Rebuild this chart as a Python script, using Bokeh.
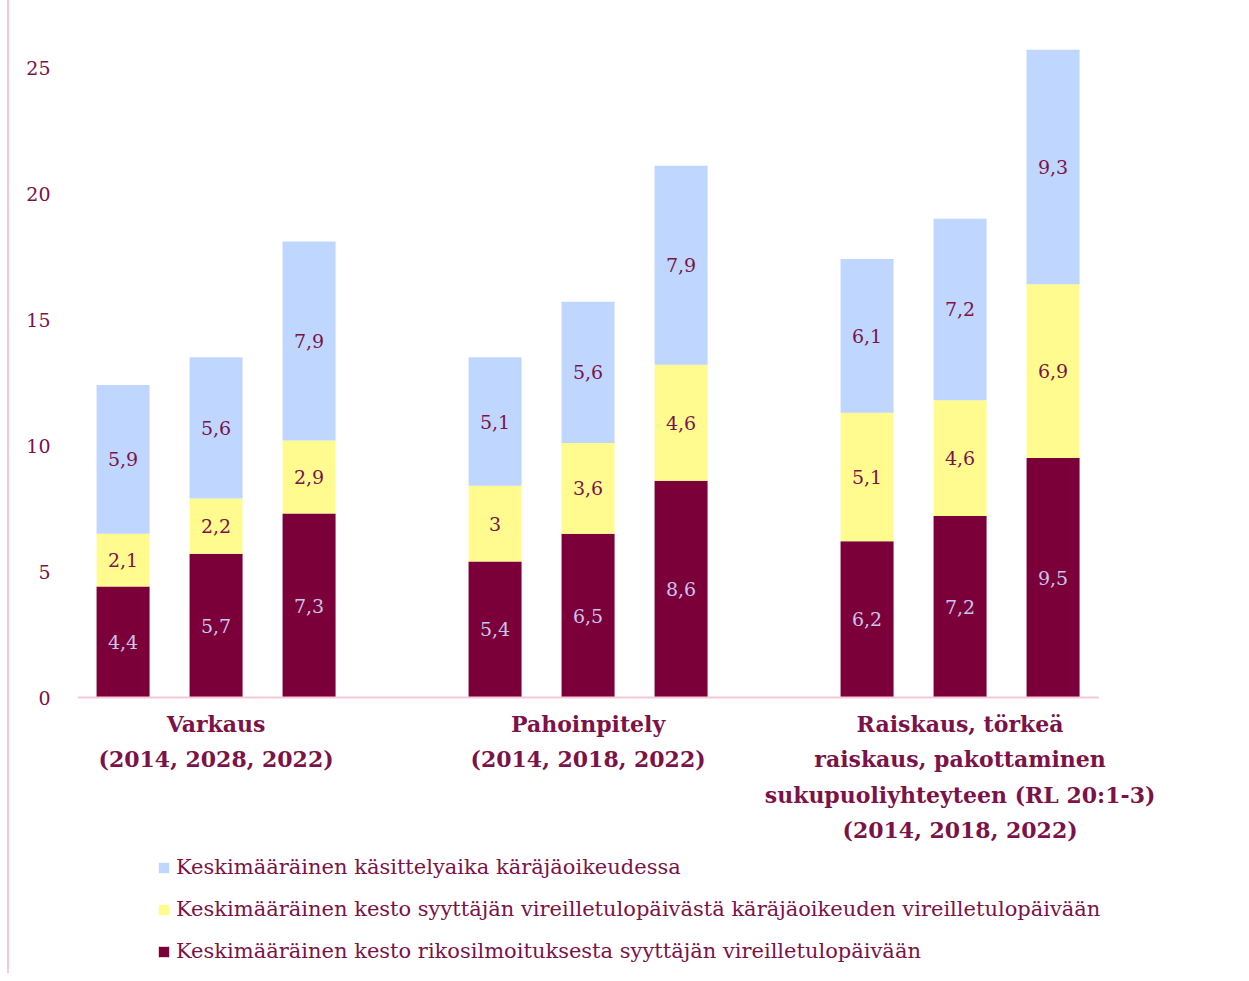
import numpy as np
from bokeh.plotting import figure
from bokeh.models import ColumnDataSource, FixedTicker, Legend, LegendItem, Range1d
from bokeh.core.properties import value
from bokeh.embed import file_html
from bokeh.resources import INLINE

# ---- data ----
groups = [
    "Varkaus\n(2014, 2028, 2022)",
    "Pahoinpitely\n(2014, 2018, 2022)",
    "Raiskaus, törkeä\nraiskaus, pakottaminen\nsukupuoliyhteyteen (RL 20:1-3)\n(2014, 2018, 2022)",
]
years = ["2014", "2018", "2022"]
rikos = [4.4, 5.7, 7.3, 5.4, 6.5, 8.6, 6.2, 7.2, 9.5]
syyttaja = [2.1, 2.2, 2.9, 3.0, 3.6, 4.6, 5.1, 4.6, 6.9]
kasittely = [5.9, 5.6, 7.9, 5.1, 5.6, 7.9, 6.1, 7.2, 9.3]
series_names = [
    "Keskimääräinen käsittelyaika käräjäoikeudessa",
    "Keskimääräinen kesto syyttäjän vireilletulopäivästä käräjäoikeuden vireilletulopäivään",
    "Keskimääräinen kesto rikosilmoituksesta syyttäjän vireilletulopäivään",
]
y_ticks = [0, 5, 10, 15, 20, 25]

# ---- style ----
MAROON = "#7b003a"
YELLOW = "#fffb8f"
BLUE = "#bfd7ff"
TXT = "#7b1248"
LAV = "#c9c6ee"
PINK = "#f8c8da"
FONT = "DejaVu Serif"

SLOT = 93.0          # px per x unit
UNIT = 25.2          # px per y unit
FRAME_W = 1150
FRAME_H = 973
ZERO_FROM_TOP = 697

n_per_group = len(years)
xs = []
for gi in range(len(groups)):
    for bi in range(n_per_group):
        xs.append(gi * (n_per_group + 1) + bi)
xs = np.array(xs, dtype=float)
group_x = [gi * (n_per_group + 1) + (n_per_group - 1) / 2 for gi in range(len(groups))]

x0 = xs.min() - 0.49
x1 = x0 + FRAME_W / SLOT
y1 = ZERO_FROM_TOP / UNIT
y0 = -(FRAME_H - ZERO_FROM_TOP) / UNIT

p = figure(frame_width=FRAME_W, frame_height=FRAME_H,
           x_range=Range1d(x0, x1), y_range=Range1d(y0, y1),
           x_axis_location=None, output_backend="svg", toolbar_location=None,
           min_border_left=68, min_border_right=0, min_border_top=0, min_border_bottom=0)
p.outline_line_color = None
p.xgrid.visible = False
p.ygrid.visible = False
p.background_fill_color = "white"
p.border_fill_color = "white"
p.styles = {"border-left": "2px solid " + PINK, "margin-left": "7px"}

r = np.array(rikos)
s = np.array(syyttaja)
k = np.array(kasittely)
src = ColumnDataSource(dict(x=xs, r=r, s=s, k=k))

bars = p.vbar_stack(["r", "s", "k"], x="x", width=0.57, source=src,
                    color=[MAROON, YELLOW, BLUE], line_color=None)

# baseline
p.segment(x0=[xs.min() - 0.49], x1=[xs.max() + 0.49], y0=[0], y1=[0],
          line_color=PINK, line_width=2)

def fmt(v):
    return ("%g" % v).replace(".", ",")

# value labels
bottoms = [np.zeros_like(r), r, r + s]
vals = [r, s, k]
cols = [LAV, TXT, TXT]
for b, v, c in zip(bottoms, vals, cols):
    lsrc = ColumnDataSource(dict(x=xs, y=b + v / 2, t=[fmt(q) for q in v]))
    p.text(x="x", y="y", text="t", source=lsrc, text_align="center",
           text_baseline="middle", text_color=c, text_font=value(FONT),
           text_font_size="19px")

# group labels
gsrc = ColumnDataSource(dict(x=group_x, y=[0] * len(groups), t=groups))
p.text(x="x", y="y", text="t", source=gsrc, text_align="center",
       text_baseline="top", y_offset=13, text_color=TXT, text_font=value(FONT),
       text_font_size="22px", text_font_style="bold", text_line_height=1.37)

# y axis
p.yaxis.ticker = FixedTicker(ticks=y_ticks)
p.yaxis.axis_line_color = None
p.yaxis.major_tick_line_color = None
p.yaxis.minor_tick_line_color = None
p.yaxis.major_label_standoff = 21
p.yaxis.major_label_text_color = TXT
p.yaxis.major_label_text_font = FONT
p.yaxis.major_label_text_font_size = "19px"

# legend
legend = Legend(items=[LegendItem(label=series_names[0], renderers=[bars[2]]),
                       LegendItem(label=series_names[1], renderers=[bars[1]]),
                       LegendItem(label=series_names[2], renderers=[bars[0]])],
                location=(80, 10), orientation="vertical")
legend.padding = 0
legend.margin = 0
legend.border_line_color = None
legend.background_fill_alpha = 0
legend.glyph_width = 13
legend.glyph_height = 13
legend.label_standoff = 6
legend.label_text_color = TXT
legend.label_text_font = FONT
legend.label_text_font_size = "21px"
legend.label_height = 20
legend.spacing = 18
p.add_layout(legend, "center")

open("out.html", "w").write(file_html(p, INLINE))
